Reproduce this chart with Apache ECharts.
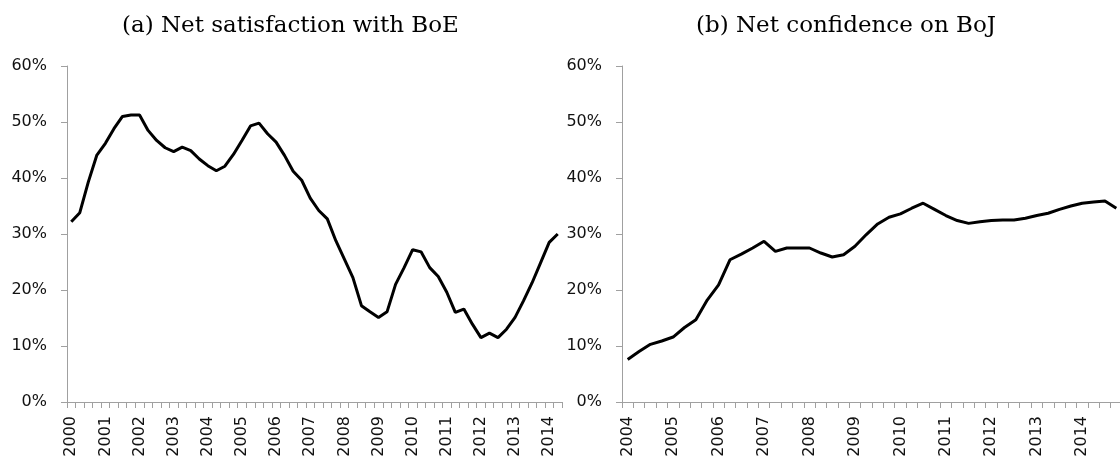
<!DOCTYPE html>
<html>
<head>
<meta charset="utf-8">
<script src="https://cdn.jsdelivr.net/npm/echarts@6/dist/echarts.min.js"></script>
<style>
  html, body { margin: 0; padding: 0; background: #fff; }
  #main { width: 1120px; height: 456px; }
</style>
</head>
<body>
<div id="main"></div>
<script>
// years shown on the x axis, data is quarterly
var yearsBoE = ['2000','2001','2002','2003','2004','2005','2006','2007','2008','2009','2010','2011','2012','2013','2014'];
var yearsBoJ = ['2004','2005','2006','2007','2008','2009','2010','2011','2012','2013','2014'];

// net satisfaction with BoE, %, 2000Q1 - 2014Q2
var boeValues = [
  32.2, 33.8, 39.3, 44.1, 46.2, 48.8, 51.0, 51.25, 51.25, 48.5,
  46.7, 45.4, 44.7, 45.5, 44.9, 43.4, 42.2, 41.3, 42.1, 44.2,
  46.7, 49.3, 49.8, 47.9, 46.4, 44.0, 41.2, 39.6, 36.4, 34.2,
  32.7, 28.8, 25.5, 22.2, 17.2, 16.1, 15.1, 16.1, 21.0, 24.0,
  27.2, 26.8, 24.0, 22.4, 19.6, 16.0, 16.6, 13.9, 11.5, 12.3,
  11.5, 13.0, 15.1, 18.1, 21.3, 24.9, 28.5, 30.0
];

// net confidence on BoJ, %, 2004Q1 - 2014Q4
var bojValues = [
  7.6, 9.0, 10.3, 10.9, 11.6, 13.3, 14.7, 18.2, 20.9, 25.4,
  26.4, 27.5, 28.7, 26.9, 27.5, 27.5, 27.5, 26.6, 25.9, 26.3,
  27.8, 29.9, 31.8, 33.0, 33.6, 34.6, 35.5, 34.4, 33.3, 32.4,
  31.9, 32.2, 32.4, 32.5, 32.5, 32.8, 33.3, 33.7, 34.4, 35.0,
  35.5, 35.7, 35.9, 34.6
];

var yTicks = [0, 10, 20, 30, 40, 50, 60];

function quarters(years, n) {
  var out = [];
  years.forEach(function (y) {
    ['Q1', 'Q2', 'Q3', 'Q4'].forEach(function (q) { out.push(y + q); });
  });
  return out.slice(0, n);
}

var catsBoE = quarters(yearsBoE, boeValues.length);
var catsBoJ = quarters(yearsBoJ, bojValues.length);

var labelFont = 'DejaVu Sans';
var axisGrey = '#a0a0a0';

function xAxisFor(idx, cats) {
  return {
    type: 'category',
    gridIndex: idx,
    data: cats,
    boundaryGap: true,
    axisLine: { lineStyle: { color: axisGrey, width: 1 } },
    axisTick: { show: true, interval: 0, length: 6, lineStyle: { color: axisGrey } },
    axisLabel: {
      interval: 3,
      rotate: 90,
      margin: 14,
      color: '#111',
      fontFamily: labelFont,
      fontSize: 16,
      formatter: function (v) { return v.slice(0, 4); }
    },
    splitLine: { show: false }
  };
}

function yAxisFor(idx) {
  return {
    type: 'value',
    gridIndex: idx,
    min: yTicks[0],
    max: yTicks[yTicks.length - 1],
    interval: 10,
    axisLine: { show: true, lineStyle: { color: axisGrey, width: 1 } },
    axisTick: { show: true, length: 6, lineStyle: { color: axisGrey } },
    axisLabel: {
      margin: 20,
      color: '#111',
      fontFamily: labelFont,
      fontSize: 16,
      formatter: '{value}%'
    },
    splitLine: { show: false }
  };
}

var myChart = echarts.init(document.getElementById('main'));
myChart.setOption({
  animation: false,
  backgroundColor: '#fff',
  title: [
    {
      text: '(a) Net satisfaction with BoE',
      left: 117, top: 10,
      textStyle: { fontFamily: 'DejaVu Serif', fontWeight: 'normal', fontSize: 23, color: '#000' }
    },
    {
      text: '(b) Net confidence on BoJ',
      left: 691, top: 10,
      textStyle: { fontFamily: 'DejaVu Serif', fontWeight: 'normal', fontSize: 23, color: '#000' }
    }
  ],
  grid: [
    { left: 67, top: 66, width: 495, height: 336, outerBoundsMode: 'none', containLabel: false },
    { left: 622, top: 66, width: 500, height: 336, outerBoundsMode: 'none', containLabel: false }
  ],
  xAxis: [xAxisFor(0, catsBoE), xAxisFor(1, catsBoJ)],
  yAxis: [yAxisFor(0), yAxisFor(1)],
  series: [
    {
      name: 'BoE', type: 'line', xAxisIndex: 0, yAxisIndex: 0,
      data: boeValues, symbol: 'none',
      lineStyle: { color: '#000', width: 3 }
    },
    {
      name: 'BoJ', type: 'line', xAxisIndex: 1, yAxisIndex: 1,
      data: bojValues, symbol: 'none',
      lineStyle: { color: '#000', width: 3 }
    }
  ]
});
</script>
</body>
</html>
